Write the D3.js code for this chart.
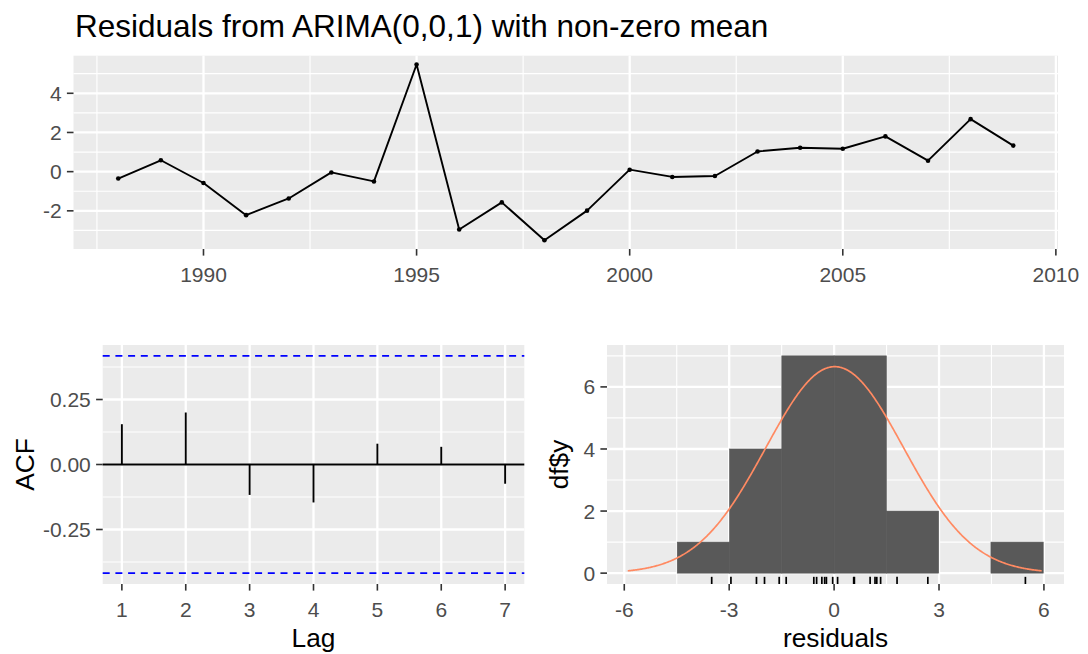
<!DOCTYPE html>
<html><head><meta charset="utf-8">
<script src="https://cdn.jsdelivr.net/npm/d3@7"></script>
<style>
body{margin:0;background:#fff}
svg{display:block;font-family:"Liberation Sans",Arial,Helvetica,sans-serif}
</style>
</head><body>
<svg id="chart" width="1088" height="654"></svg>
<script>
// ---------- data ----------
const years = [1988,1989,1990,1991,1992,1993,1994,1995,1996,1997,1998,1999,2000,2001,2002,2003,2004,2005,2006,2007,2008,2009];
const residuals = [-0.35,0.58,-0.58,-2.22,-1.37,-0.04,-0.50,5.47,-2.95,-1.57,-3.50,-1.99,0.10,-0.27,-0.22,1.03,1.22,1.17,1.80,0.56,2.68,1.33];
const acfLags = [1,2,3,4,5,6,7];
const acfValues = [0.155,0.200,-0.117,-0.146,0.080,0.068,-0.074];
const titleText = "Residuals from ARIMA(0,0,1) with non-zero mean";
const topXTicks = [1990,1995,2000,2005,2010];
const topYTicks = [-2,0,2,4];
const acfXTicks = [1,2,3,4,5,6,7];
const acfYTicks = [-0.25,0,0.25];
const acfYLabels = ["-0.25","0.00","0.25"];
const histXTicks = [-6,-3,0,3,6];
const histYTicks = [0,2,4,6];
const histBinCount = 6;
const histBoundary = 0;

// ---------- style ----------
const PANEL_BG = "#EBEBEB", GRID = "#FFFFFF", TICK_COL = "#333333", TICK_TXT = "#4D4D4D";
const TICK_LEN = 6.6, TICK_FS = 21, AXIS_FS = 26.25, TITLE_FS = 31.5;
const MAJ_W = 2.3, MIN_W = 1.15;

const svg = d3.select("#chart");

function expand(ext, m = 0.05) {
  const d = ext[1] - ext[0];
  return [ext[0] - d * m, ext[1] + d * m];
}
function minorBreaks(ticks, domain) {
  const step = ticks[1] - ticks[0];
  const all = [ticks[0] - step, ...ticks, ticks[ticks.length - 1] + step];
  const out = [];
  for (let i = 0; i < all.length - 1; i++) {
    const m = (all[i] + all[i + 1]) / 2;
    if (m >= domain[0] && m <= domain[1]) out.push(m);
  }
  return out;
}

function panel(x, y, opts) {
  const [x0, x1] = x.range(), [y0, y1] = y.range();
  const g = svg.append("g");
  g.append("rect").attr("x", x0).attr("y", y1).attr("width", x1 - x0).attr("height", y0 - y1).attr("fill", PANEL_BG);
  (opts.xMinor || []).forEach(v => g.append("line").attr("x1", x(v)).attr("x2", x(v)).attr("y1", y1).attr("y2", y0).attr("stroke", GRID).attr("stroke-width", MIN_W));
  (opts.yMinor || []).forEach(v => g.append("line").attr("y1", y(v)).attr("y2", y(v)).attr("x1", x0).attr("x2", x1).attr("stroke", GRID).attr("stroke-width", MIN_W));
  opts.xTicks.filter(v => v >= x.domain()[0] && v <= x.domain()[1]).forEach(v => g.append("line").attr("x1", x(v)).attr("x2", x(v)).attr("y1", y1).attr("y2", y0).attr("stroke", GRID).attr("stroke-width", MAJ_W));
  opts.yTicks.forEach(v => g.append("line").attr("y1", y(v)).attr("y2", y(v)).attr("x1", x0).attr("x2", x1).attr("stroke", GRID).attr("stroke-width", MAJ_W));
  const ax = svg.append("g").attr("class", "axes");
  opts.xTicks.forEach((v, i) => {
    ax.append("line").attr("x1", x(v)).attr("x2", x(v)).attr("y1", y0).attr("y2", y0 + TICK_LEN).attr("stroke", TICK_COL).attr("stroke-width", 1.6);
    ax.append("text").attr("x", x(v)).attr("y", y0 + 32.5).attr("text-anchor", "middle")
      .attr("font-size", TICK_FS).attr("fill", TICK_TXT).text(opts.xLabels ? opts.xLabels[i] : String(v));
  });
  opts.yTicks.forEach((v, i) => {
    ax.append("line").attr("x1", x0 - TICK_LEN).attr("x2", x0).attr("y1", y(v)).attr("y2", y(v)).attr("stroke", TICK_COL).attr("stroke-width", 1.6);
    ax.append("text").attr("x", x0 - TICK_LEN - 5.3).attr("y", y(v)).attr("dy", "0.36em").attr("text-anchor", "end")
      .attr("font-size", TICK_FS).attr("fill", TICK_TXT).text(opts.yLabels ? opts.yLabels[i] : String(v));
  });
  return g;
}

// ---------- top: residual time series ----------
{
  const x = d3.scaleLinear().domain(expand(d3.extent(years))).range([73.5, 1058]);
  const y = d3.scaleLinear().domain(expand(d3.extent(residuals))).range([249, 55.7]);
  const g = panel(x, y, {
    xTicks: topXTicks, yTicks: topYTicks,
    xMinor: minorBreaks(topXTicks, x.domain()), yMinor: minorBreaks(topYTicks, y.domain())
  });
  const pts = years.map((yr, i) => [yr, residuals[i]]);
  g.append("path").datum(pts)
    .attr("d", d3.line().x(d => x(d[0])).y(d => y(d[1])))
    .attr("fill", "none").attr("stroke", "#000").attr("stroke-width", 1.9).attr("stroke-linejoin", "round");
  g.selectAll("circle.pt").data(pts).join("circle").attr("class", "pt")
    .attr("cx", d => x(d[0])).attr("cy", d => y(d[1])).attr("r", 2.3).attr("fill", "#000");
  svg.append("text").attr("x", 75).attr("y", 36.5).attr("font-size", TITLE_FS).attr("fill", "#000").text(titleText);
}

// ---------- bottom left: ACF ----------
{
  const n = residuals.length;
  const ci = 1.96 / Math.sqrt(n);
  const x = d3.scaleLinear().domain(expand(d3.extent(acfLags))).range([102.7, 524.3]);
  const y = d3.scaleLinear().domain(expand([-ci, ci])).range([584, 345]);
  const g = panel(x, y, {
    xTicks: acfXTicks, yTicks: acfYTicks, yLabels: acfYLabels,
    xMinor: [], yMinor: minorBreaks(acfYTicks, y.domain())
  });
  g.append("line").attr("x1", x.range()[0]).attr("x2", x.range()[1]).attr("y1", y(0)).attr("y2", y(0))
    .attr("stroke", "#000").attr("stroke-width", 1.9);
  g.selectAll("line.spike").data(acfLags.map((l, i) => [l, acfValues[i]])).join("line").attr("class", "spike")
    .attr("x1", d => x(d[0])).attr("x2", d => x(d[0])).attr("y1", y(0)).attr("y2", d => y(d[1]))
    .attr("stroke", "#000").attr("stroke-width", 1.9);
  [ci, -ci].forEach(c => g.append("line").attr("x1", x.range()[0]).attr("x2", x.range()[1]).attr("y1", y(c)).attr("y2", y(c))
    .attr("stroke", "#0000FF").attr("stroke-width", 1.9).attr("stroke-dasharray", "7,5.7"));
  svg.append("text").attr("x", 313.5).attr("y", 647).attr("text-anchor", "middle").attr("font-size", AXIS_FS).attr("fill", "#000").text("Lag");
  svg.append("text").attr("transform", "translate(33.5,464.5) rotate(-90)").attr("text-anchor", "middle")
    .attr("font-size", AXIS_FS).attr("fill", "#000").text("ACF");
}

// ---------- bottom right: histogram ----------
{
  const n = residuals.length;
  const [rmin, rmax] = d3.extent(residuals);
  const bw = (rmax - rmin) / histBinCount;
  const mean = d3.mean(residuals), sd = d3.deviation(residuals);
  const kLo = Math.floor((rmin - histBoundary) / bw), kHi = Math.ceil((rmax - histBoundary) / bw);
  const bins = [];
  for (let k = kLo; k < kHi; k++) {
    const a = histBoundary + k * bw, b = a + bw;
    bins.push({ x0: a, x1: b, count: residuals.filter(v => (v > a || (k === kLo && v >= a)) && v <= b).length });
  }
  const cMin = Math.min(rmin, mean - 3 * sd), cMax = Math.max(rmax, mean + 3 * sd);
  const grid = d3.range(512).map(i => cMin + (cMax - cMin) * i / 511);
  const dnorm = v => Math.exp(-0.5 * ((v - mean) / sd) ** 2) / (sd * Math.sqrt(2 * Math.PI));
  const curve = grid.map(v => [v, n * bw * dnorm(v)]);

  const xExt = [Math.min(cMin, bins[0].x0), Math.max(cMax, bins[bins.length - 1].x1)];
  const x = d3.scaleLinear().domain(expand(xExt)).range([607, 1064]);
  const y = d3.scaleLinear().domain(expand([0, d3.max(bins, b => b.count)])).range([584, 345]);
  const g = panel(x, y, {
    xTicks: histXTicks, yTicks: histYTicks,
    xMinor: minorBreaks(histXTicks, x.domain()), yMinor: minorBreaks(histYTicks, y.domain())
  });
  g.selectAll("rect.bar").data(bins.filter(b => b.count > 0)).join("rect").attr("class", "bar")
    .attr("x", b => x(b.x0)).attr("width", b => x(b.x1) - x(b.x0))
    .attr("y", b => y(b.count)).attr("height", b => y(0) - y(b.count))
    .attr("fill", "#595959").attr("stroke", "#595959").attr("stroke-width", 0.6);
  g.append("path").datum(curve).attr("d", d3.line().x(d => x(d[0])).y(d => y(d[1])))
    .attr("fill", "none").attr("stroke", "#ff8a62").attr("stroke-width", 1.7);
  const y0 = y.range()[0], rugLen = 0.03 * (y.range()[0] - y.range()[1]);
  g.selectAll("line.rug").data(residuals).join("line").attr("class", "rug")
    .attr("x1", d => x(d)).attr("x2", d => x(d)).attr("y1", y0).attr("y2", y0 - rugLen)
    .attr("stroke", "#000").attr("stroke-width", 1.7);
  svg.append("text").attr("x", 835.5).attr("y", 647).attr("text-anchor", "middle").attr("font-size", AXIS_FS).attr("fill", "#000").text("residuals");
  svg.append("text").attr("transform", "translate(568,464.5) rotate(-90)").attr("text-anchor", "middle")
    .attr("font-size", AXIS_FS).attr("fill", "#000").text("df$y");
}
</script>
</body></html>
